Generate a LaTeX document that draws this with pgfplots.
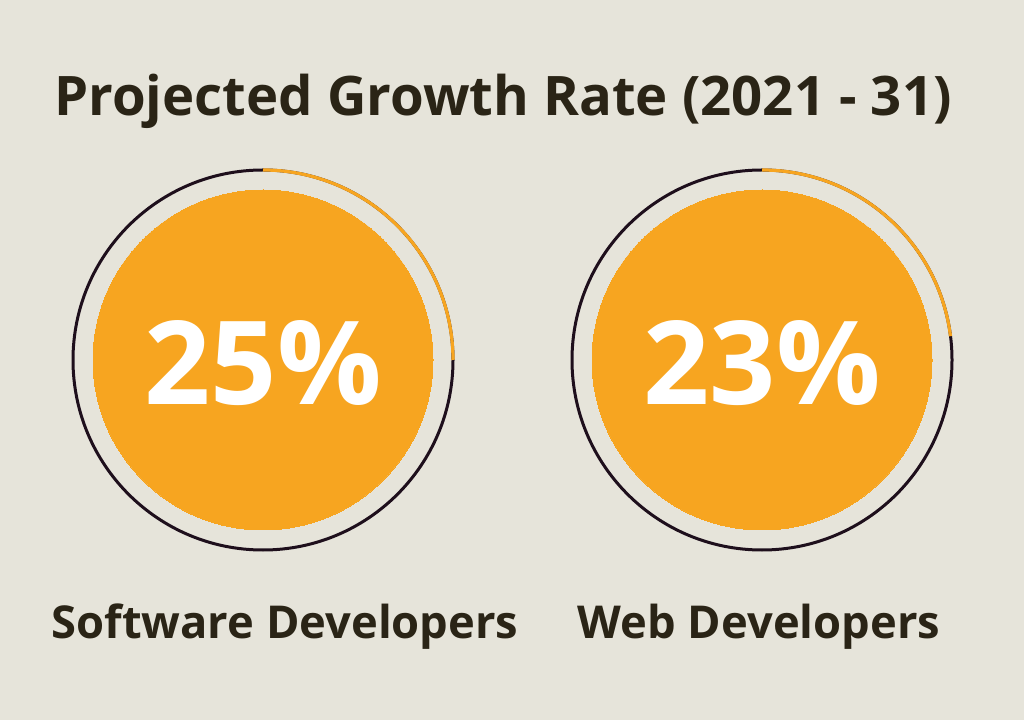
\documentclass[border=0pt]{standalone}
\usepackage{pgfplots}
\pgfplotsset{compat=1.18}
\usepackage{pgfplotstable}
\usepackage{fontspec}
\setmainfont{Open Sans}
\definecolor{bg}{HTML}{E6E4DA}
\definecolor{orng}{HTML}{F7A520}
\definecolor{ring}{HTML}{1E0F1C}
\definecolor{ttl}{HTML}{2A2416}
\pgfplotstableread{
cx cy value
263 360 25
762 360 23
}\datatable
\pgfplotstablegetelem{0}{value}\of\datatable \edef\va{\pgfplotsretval}
\pgfplotstablegetelem{1}{value}\of\datatable \edef\vb{\pgfplotsretval}
\begin{document}
\begin{tikzpicture}
\begin{axis}[
  x=1pt, y=1pt, xmin=0, xmax=1024, ymin=0, ymax=720,
  hide axis, clip=false, scale only axis,
  /pgf/number format/assume math mode=true,
]
\fill[bg] (axis cs:0,0) rectangle (axis cs:1024,720);
\addplot[only marks, color=orng, mark=*, mark size=170pt, mark options={fill=orng, draw=orng, line width=0pt}]
  table[x=cx, y expr=720-\thisrow{cy}] {\datatable};
\draw[ring, line width=3pt] (axis cs:263,360) circle[radius=190];
\draw[ring, line width=3pt] (axis cs:762,360) circle[radius=190];
\draw[orng, line width=3.2pt] (axis cs:263,550) arc[start angle=90, end angle={90-3.6*\va}, radius=190];
\draw[orng, line width=3.2pt] (axis cs:762,550) arc[start angle=90, end angle={90-3.6*\vb}, radius=190];
\addplot[only marks, mark=none, point meta=explicit,
  nodes near coords={\pgfmathprintnumber{\pgfplotspointmeta}\%},
  nodes near coords align={center},
  every node near coord/.append style={font=\fontsize{116}{116}\selectfont\bfseries, text=white, anchor=center}]
  table[x=cx, y expr=717-\thisrow{cy}, meta=value] {\datatable};
\node[font=\fontsize{54.5}{54.5}\selectfont\bfseries, text=ttl] at (axis cs:503,619) {Projected Growth Rate (2021 - 31)};
\node[font=\fontsize{45.3}{45.3}\selectfont\bfseries, text=ttl] at (axis cs:285,93) {Software Developers};
\node[font=\fontsize{45.3}{45.3}\selectfont\bfseries, text=ttl] at (axis cs:759,93) {Web Developers};
\end{axis}
\end{tikzpicture}
\end{document}
